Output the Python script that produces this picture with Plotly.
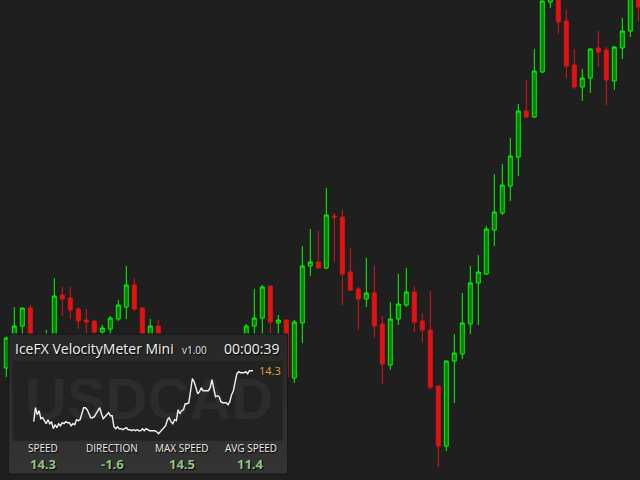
import plotly.graph_objects as go

# ---- candle data (USDCAD, one candle per bar index) ----
bar_index = list(range(80))
open_ = [1.3112,1.3135,1.3154,1.3172,1.3130,1.3128,1.3138,1.3185,1.3182,1.3171,
         1.3160,1.3159,1.3148,1.3151,1.3161,1.3173,1.3195,1.3172,1.3134,1.3154,
         1.3132,1.3139,1.3128,1.3120,1.3130,1.3123,1.3132,1.3138,1.3130,1.3136,
         1.3140,1.3154,1.3162,1.3194,1.3157,1.3160,1.3102,1.3157,1.3214,1.3218,
         1.3212,1.3264,1.3263,1.3208,1.3191,1.3181,1.3187,1.3156,1.3115,1.3161,
         1.3175,1.3188,1.3159,1.3150,1.3094,1.3034,1.3119,1.3126,1.3156,1.3197,
         1.3206,1.3250,1.3267,1.3294,1.3323,1.3369,1.3363,1.3408,1.3478,1.3490,
         1.3459,1.3415,1.3393,1.3402,1.3432,1.3430,1.3399,1.3432,1.3449,1.3483]
high = [1.3143,1.3173,1.3172,1.3175,1.3142,1.3150,1.3202,1.3193,1.3193,1.3173,
        1.3171,1.3159,1.3155,1.3164,1.3180,1.3214,1.3202,1.3172,1.3161,1.3160,
        1.3144,1.3142,1.3133,1.3135,1.3134,1.3136,1.3141,1.3142,1.3140,1.3141,
        1.3156,1.3191,1.3195,1.3194,1.3165,1.3161,1.3160,1.3234,1.3251,1.3249,
        1.3292,1.3267,1.3270,1.3232,1.3193,1.3222,1.3214,1.3164,1.3178,1.3206,
        1.3212,1.3194,1.3167,1.3189,1.3094,1.3119,1.3146,1.3187,1.3214,1.3225,
        1.3254,1.3306,1.3316,1.3342,1.3376,1.3400,1.3431,1.3482,1.3498,1.3495,
        1.3470,1.3431,1.3411,1.3432,1.3449,1.3433,1.3434,1.3462,1.3490,1.3488]
low = [1.3103,1.3130,1.3142,1.3130,1.3126,1.3124,1.3134,1.3164,1.3161,1.3151,
       1.3144,1.3143,1.3144,1.3144,1.3159,1.3161,1.3169,1.3132,1.3130,1.3130,
       1.3128,1.3124,1.3116,1.3117,1.3118,1.3120,1.3128,1.3125,1.3126,1.3128,
       1.3136,1.3142,1.3140,1.3142,1.3144,1.3100,1.3097,1.3137,1.3204,1.3212,
       1.3211,1.3218,1.3175,1.3189,1.3150,1.3173,1.3142,1.3096,1.3110,1.3155,
       1.3173,1.3148,1.3138,1.3091,1.3013,1.3029,1.3077,1.3121,1.3146,1.3155,
       1.3205,1.3234,1.3265,1.3279,1.3304,1.3362,1.3362,1.3407,1.3472,1.3446,
       1.3402,1.3391,1.3379,1.3387,1.3413,1.3375,1.3390,1.3421,1.3443,1.3459]
close = [1.3142,1.3154,1.3172,1.3135,1.3138,1.3140,1.3184,1.3181,1.3170,1.3159,
         1.3158,1.3148,1.3152,1.3162,1.3175,1.3195,1.3171,1.3138,1.3154,1.3136,
         1.3140,1.3128,1.3120,1.3130,1.3122,1.3132,1.3138,1.3130,1.3136,1.3132,
         1.3154,1.3162,1.3193,1.3158,1.3160,1.3103,1.3158,1.3214,1.3218,1.3212,
         1.3265,1.3263,1.3206,1.3190,1.3181,1.3187,1.3154,1.3116,1.3161,1.3176,
         1.3188,1.3158,1.3150,1.3093,1.3034,1.3119,1.3127,1.3157,1.3197,1.3208,
         1.3251,1.3268,1.3295,1.3324,1.3369,1.3363,1.3409,1.3479,1.3492,1.3458,
         1.3414,1.3393,1.3402,1.3431,1.3428,1.3400,1.3433,1.3449,1.3485,1.3473]

# ---- velocity meter data ----
speed_history = [9.2,10.6,9.9,10.3,9.5,9.6,9.3,9.0,9.4,9.0,
                 9.2,8.5,8.9,8.6,9.0,8.8,9.1,9.0,9.2,9.1,
                 9.1,8.8,9.0,8.9,9.4,9.3,9.4,9.9,10.6,10.6,
                 10.4,10.0,9.6,9.6,9.7,10.0,10.3,10.6,10.0,9.5,
                 9.7,9.9,10.1,9.8,9.8,8.7,8.5,8.7,8.5,8.5,
                 8.4,8.5,8.6,8.4,8.4,8.3,8.4,8.3,8.4,8.3,
                 8.3,8.5,8.3,8.5,8.4,8.3,8.3,8.3,8.3,8.2,
                 8.0,8.2,8.4,8.6,8.8,9.4,9.6,9.2,9.0,9.4,
                 9.3,10.4,10.0,10.3,10.4,11.0,11.0,11.1,12.2,13.5,
                 13.2,12.7,12.0,12.2,12.6,12.3,12.3,12.3,12.3,12.6,
                 13.4,12.5,11.7,11.8,11.7,11.2,11.1,11.1,11.1,10.9,
                 11.2,11.9,12.3,13.2,14.0,14.2,14.1,14.1,14.1,14.2,
                 14.0,14.3,14.3,14.3]
symbol = "USDCAD"
title_text = "IceFX VelocityMeter Mini"
version_text = "v1.00"
timer_text = "00:00:39"
stat_labels = ["SPEED", "DIRECTION", "MAX SPEED", "AVG SPEED"]
stat_values = ["14.3", "-1.6", "14.5", "11.4"]
current_speed = "14.3"

W, H = 640, 480
BG = "#1f1f1f"
spark_x = list(range(len(speed_history)))

fig = go.Figure()

fig.add_trace(go.Candlestick(
    x=bar_index, open=open_, high=high, low=low, close=close,
    increasing=dict(line=dict(color="#00ff00", width=1), fillcolor="#007a00"),
    decreasing=dict(line=dict(color="#e31313", width=1), fillcolor="#e31313"),
    whiskerwidth=0, hoverinfo="skip", showlegend=False,
    xaxis="x", yaxis="y",
))

# ---- panel (x2/y2 in page pixel-like units) ----
px0, px1, py0, py1 = 8.3, 287.7, 334, 474
fig.add_trace(go.Scatter(
    x=[px0, px1, px1, px0, px0], y=[py0, py0, py1, py1, py0],
    mode="lines", fill="toself",
    fillgradient=dict(type="vertical", start=py0, stop=py1,
                      colorscale=[[0, "#272727"], [1, "#343434"]]),
    line=dict(color="#141414", width=1),
    hoverinfo="skip", showlegend=False, xaxis="x2", yaxis="y2",
))
ix0, ix1, iy0, iy1 = 12.7, 282.7, 361, 440.7
fig.add_trace(go.Scatter(
    x=[ix0, ix1, ix1, ix0, ix0], y=[iy0, iy0, iy1, iy1, iy0],
    mode="lines", fill="toself", fillcolor="#222222",
    line=dict(color="#222222", width=0),
    hoverinfo="skip", showlegend=False, xaxis="x2", yaxis="y2",
))
fig.add_trace(go.Scatter(
    x=[149], y=[404], mode="text", text=["<b>" + symbol + "</b>"],
    textposition="middle center", cliponaxis=False,
    textfont=dict(family="Liberation Sans", size=58, color="#2c2c2c", weight="bold"),
    hoverinfo="skip", showlegend=False, xaxis="x2", yaxis="y2",
))

# ---- sparkline (x3/y3) ----
fig.add_trace(go.Scatter(
    x=spark_x, y=speed_history, mode="lines",
    line=dict(color="#f2f2f2", width=1.4),
    hoverinfo="skip", showlegend=False, xaxis="x3", yaxis="y3",
))

shadow = "1px 1px 1px #000000"
ann = []
ann.append(dict(x=13.3, y=348, xref="x2", yref="y2", text=title_text, showarrow=False,
                xanchor="left", yanchor="middle",
                font=dict(family="Open Sans", size=14, color="#f4f4f4", shadow=shadow)))
ann.append(dict(x=179.5, y=349.5, xref="x2", yref="y2", text=version_text, showarrow=False,
                xanchor="left", yanchor="middle",
                font=dict(family="Open Sans", size=10, color="#e8e8e8", shadow=shadow)))
ann.append(dict(x=280.5, y=348, xref="x2", yref="y2", text=timer_text, showarrow=False,
                xanchor="right", yanchor="middle",
                font=dict(family="Open Sans", size=14, color="#f4f4f4", shadow=shadow)))
centers = [43.2, 112.3, 181.7, 250.7]
for cx, lab, val in zip(centers, stat_labels, stat_values):
    ann.append(dict(x=cx, y=448.3, xref="x2", yref="y2", text=lab, showarrow=False,
                    xanchor="center", yanchor="middle",
                    font=dict(family="Open Sans", size=10, color="#ececec", shadow=shadow)))
    ann.append(dict(x=cx, y=464, xref="x2", yref="y2", text=val, showarrow=False,
                    xanchor="center", yanchor="middle",
                    font=dict(family="Open Sans", size=13, color="#8fc486",
                              weight="bold", shadow=shadow)))
ann.append(dict(x=spark_x[-1], y=speed_history[-1], xref="x3", yref="y3",
                text=current_speed, showarrow=False, xanchor="left", yanchor="middle",
                xshift=4,
                font=dict(family="Open Sans", size=11, color="#e0a526")))

# spark axis domain: index spacing maps 0..N-1 to pixels 33.7..253
n = len(speed_history)
step = (253 - 33.7) / (n - 1)
sx0 = 33.7 - 0.5 * step
sx1 = 253 + 0.5 * step

fig.update_layout(
    width=W, height=H, margin=dict(l=0, r=0, t=0, b=0),
    paper_bgcolor=BG, plot_bgcolor="rgba(0,0,0,0)", showlegend=False,
    xaxis=dict(range=[-0.7875, 79.2125], visible=False, rangeslider=dict(visible=False),
               domain=[0, 1], fixedrange=True),
    yaxis=dict(range=[1.3000, 1.3480], visible=False, domain=[0, 1], fixedrange=True),
    xaxis2=dict(range=[7.3, 288.7], domain=[7.3 / W, 288.7 / W], anchor="y2",
                visible=False, fixedrange=True),
    yaxis2=dict(range=[475, 333], domain=[1 - 475 / H, 1 - 333 / H], anchor="x2",
                visible=False, fixedrange=True),
    xaxis3=dict(range=[-0.5, n - 0.5], domain=[sx0 / W, sx1 / W], anchor="y3",
                visible=False, fixedrange=True),
    yaxis3=dict(range=[7.30, 15.27], domain=[1 - 440.7 / H, 1 - 361 / H], anchor="x3",
                visible=False, fixedrange=True),
    annotations=ann,
)

fig.write_html("out.html", config={"displayModeBar": False},
               post_script="document.body.style.margin='0';document.body.style.overflow='hidden';")
